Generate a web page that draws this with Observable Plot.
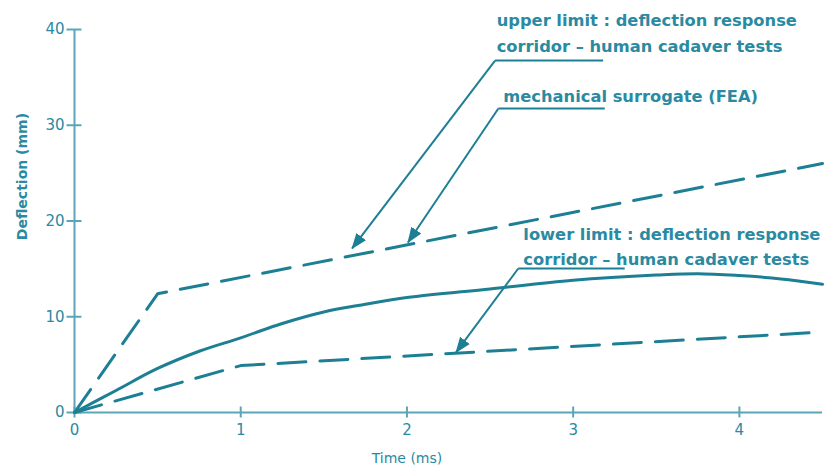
<!DOCTYPE html>
<html>
<head>
<meta charset="utf-8">
<script src="https://cdn.jsdelivr.net/npm/d3@7"></script>
<script src="https://cdn.jsdelivr.net/npm/@observablehq/plot@0.6"></script>
<style>
  html, body { margin: 0; padding: 0; background: #ffffff; }
  #chart svg { display: block; }
</style>
</head>
<body>
<div id="chart"></div>
<script>
// ---- data ----
const upperT = [0, 0.5, 4.5];
const upperD = [0, 12.4, 26.0];
const lowerT = [0, 1.0, 4.5];
const lowerD = [0, 4.9, 8.4];
const feaT = [0, 0.25, 0.5, 0.75, 1.0, 1.25, 1.5, 1.75, 2.0, 2.5, 3.0, 3.5, 3.75, 4.0, 4.25, 4.5];
const feaD = [0, 2.3, 4.6, 6.4, 7.8, 9.3, 10.5, 11.3, 12.0, 12.9, 13.8, 14.35, 14.5, 14.3, 13.95, 13.4];

const xTicks = [0, 1, 2, 3, 4];
const yTicks = [0, 10, 20, 30, 40];

const annText = ["upper limit : deflection response", "corridor \u2013 human cadaver tests",
                 "mechanical surrogate (FEA)",
                 "lower limit : deflection response", "corridor \u2013 human cadaver tests"];
const annX = [2.54, 2.54, 2.58, 2.70, 2.70];
const annY = [40.9, 38.2, 33.0, 18.6, 16.0];

// leader underlines
const ulX1 = [2.53, 2.55, 2.67];
const ulX2 = [3.18, 3.19, 3.31];
const ulY = [36.76, 31.75, 15.04];
// arrow tips
const tipX = [1.67, 2.006, 2.295];
const tipY = [17.13, 17.75, 6.27];

const lineColor = "#1d7f93";
const textColor = "#2a8aa2";
const axisColor = "#5aa6b8";

const chart = Plot.plot({
  width: 828,
  height: 472,
  marginLeft: 74,
  marginRight: 6,
  marginTop: 29,
  marginBottom: 60,
  style: { fontFamily: "DejaVu Sans", background: "#ffffff", overflow: "visible" },
  x: { domain: [0, 4.5], axis: null },
  y: { domain: [0, 40], axis: null },
  marks: [
    Plot.ruleY([0], { stroke: axisColor, strokeWidth: 2 }),
    Plot.ruleX([0], { stroke: axisColor, strokeWidth: 2 }),
    Plot.axisY(yTicks, { tickSize: 15, dx: 7.5, tickFormat: () => "", label: null, stroke: axisColor, strokeWidth: 2 }),
    Plot.axisX(xTicks, { tickSize: 11, dy: -5.5, tickFormat: () => "", label: null, stroke: axisColor, strokeWidth: 2 }),
    Plot.axisY(yTicks, { tickSize: 0, tickPadding: 10, label: null, tickFormat: d => String(d), fill: textColor, fontSize: 15 }),
    Plot.axisX(xTicks, { tickSize: 0, tickPadding: 12, label: null, tickFormat: d => String(d), fill: textColor, fontSize: 15 }),
    Plot.text(["Time (ms)"], { x: 2, frameAnchor: "bottom", dy: 50, fill: textColor, fontSize: 14 }),
    Plot.text(["Deflection (mm)"], { y: 18, frameAnchor: "left", dx: -52, rotate: -90, fill: textColor, fontSize: 14, fontWeight: "bold" }),
    Plot.line(upperT, { x: upperT, y: upperD, stroke: lineColor, strokeWidth: 3, strokeDasharray: "28,14" }),
    Plot.line(lowerT, { x: lowerT, y: lowerD, stroke: lineColor, strokeWidth: 3, strokeDasharray: "28,14" }),
    Plot.line(feaT, { x: feaT, y: feaD, stroke: lineColor, strokeWidth: 3, curve: "catmull-rom" }),
    Plot.link(ulY, { x1: ulX1, x2: ulX2, y1: ulY, y2: ulY, stroke: lineColor, strokeWidth: 2 }),
    Plot.link(ulY, { x1: ulX1, y1: ulY, x2: tipX, y2: tipY, stroke: lineColor, strokeWidth: 2, markerEnd: "arrow" }),
    Plot.text(annText, { x: annX, y: annY, text: annText, textAnchor: "start", fill: textColor, fontSize: 16.3, fontWeight: "bold" })
  ]
});

chart.querySelectorAll("marker").forEach(m => {
  m.setAttribute("markerUnits", "userSpaceOnUse");
  m.setAttribute("viewBox", "-15 -7 16 14");
  m.setAttribute("markerWidth", "16");
  m.setAttribute("markerHeight", "14");
  m.setAttribute("fill", lineColor);
  m.setAttribute("stroke", "none");
  const p = m.querySelector("path");
  if (p) p.setAttribute("d", "M-15,-6L1,0L-15,6Z");
});

document.getElementById("chart").appendChild(chart);
</script>
</body>
</html>
